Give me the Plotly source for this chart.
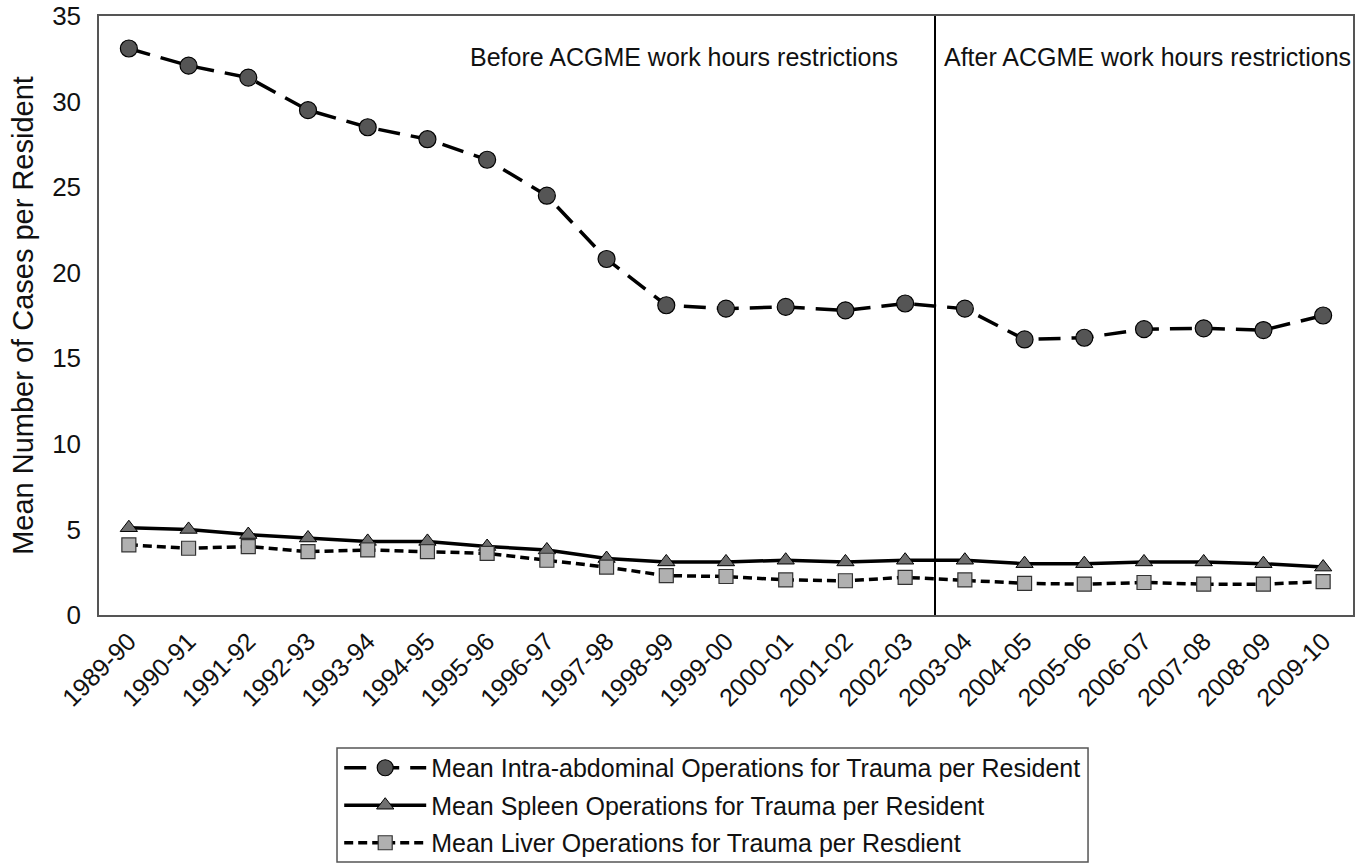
import plotly.graph_objects as go

years = ["1989-90", "1990-91", "1991-92", "1992-93", "1993-94", "1994-95", "1995-96",
         "1996-97", "1997-98", "1998-99", "1999-00", "2000-01", "2001-02", "2002-03",
         "2003-04", "2004-05", "2005-06", "2006-07", "2007-08", "2008-09", "2009-10"]

intra_abdominal = [33.1, 32.1, 31.4, 29.5, 28.5, 27.8, 26.6, 24.5, 20.8, 18.1, 17.9,
                   18.0, 17.8, 18.2, 17.9, 16.1, 16.2, 16.7, 16.75, 16.65, 17.5]
spleen = [5.1, 5.0, 4.7, 4.5, 4.3, 4.3, 4.0, 3.8, 3.3, 3.1, 3.1,
          3.2, 3.1, 3.2, 3.2, 3.0, 3.0, 3.1, 3.1, 3.0, 2.8]
liver = [4.1, 3.9, 4.0, 3.7, 3.8, 3.7, 3.6, 3.2, 2.8, 2.3, 2.25,
         2.05, 2.0, 2.2, 2.05, 1.85, 1.8, 1.9, 1.8, 1.8, 1.95]

names = ["Mean Intra-abdominal Operations for Trauma per Resident",
         "Mean Spleen Operations for Trauma per Resident",
         "Mean Liver Operations for Trauma per Resdient"]

FONT = "Liberation Sans, Arial, sans-serif"

fig = go.Figure()
fig.add_trace(go.Scatter(
    x=years, y=intra_abdominal, name=names[0], mode="lines+markers", legendgroup="a",
    line=dict(color="black", width=3.5, dash="22px,11px"),
    marker=dict(symbol="circle", size=17, color="#555555", line=dict(color="black", width=1.2)),
))
fig.add_trace(go.Scatter(
    x=years, y=spleen, name=names[1], mode="lines+markers", legendgroup="b",
    line=dict(color="black", width=3.5),
    marker=dict(symbol="triangle-up", size=15, color="#707070", line=dict(color="black", width=1)),
))
fig.add_trace(go.Scatter(
    x=years, y=liver, name=names[2], mode="lines+markers", legendgroup="c",
    line=dict(color="black", width=3.5, dash="9px,5px"),
    marker=dict(symbol="square", size=14, color="#b0b0b0", line=dict(color="#333333", width=1.2)),
))

fig.add_shape(type="line", xref="x", yref="paper", x0=13.5, x1=13.5, y0=0, y1=1,
              line=dict(color="black", width=2))

# legend frame
fig.add_shape(type="rect", xref="paper", yref="paper", x0=0.1898, x1=0.7887, y0=-0.4124, y1=-0.2220,
              line=dict(color="#555", width=1.5), fillcolor="rgba(0,0,0,0)", layer="above")

fig.add_annotation(x=12.91, y=32.6, xref="x", yref="y", text="Before ACGME work hours restrictions",
                   showarrow=False, xanchor="right", font=dict(size=25, color="#111", family=FONT))
fig.add_annotation(x=13.62, y=32.6, xref="x", yref="y", text="After ACGME work hours restrictions",
                   showarrow=False, xanchor="left", font=dict(size=25, color="#111", family=FONT))

fig.update_layout(
    width=1368, height=867,
    margin=dict(l=99, r=15, t=16, b=252, autoexpand=False),
    plot_bgcolor="white", paper_bgcolor="white",
    font=dict(family=FONT, color="#111"),
    showlegend=True,
    legend=dict(
        x=0.489, y=-0.217, xanchor="center", yanchor="top",
        borderwidth=0, bgcolor="rgba(0,0,0,0)",
        font=dict(size=25, family=FONT, color="#111"),
        tracegroupgap=2, itemwidth=82,
    ),
    xaxis=dict(
        type="category", range=[-0.5, 20.5], tickangle=-45,
        tickfont=dict(size=25, family=FONT), showgrid=False,
        showline=True, linecolor="#555", linewidth=1.5, mirror=True, ticks="",
    ),
    yaxis=dict(
        range=[0, 35], dtick=5, tickfont=dict(size=26, family=FONT), showgrid=False,
        showline=True, linecolor="#555", linewidth=1.5, mirror=True, ticks="",
        ticklabelstandoff=11, ticklabeloverflow="allow",
        title=dict(text="Mean Number of Cases per Resident", font=dict(size=29, family=FONT), standoff=10),
        zeroline=False,
    ),
)

fig.write_html("out.html", config={"displayModeBar": False},
               post_script="document.body.style.margin='0';")
